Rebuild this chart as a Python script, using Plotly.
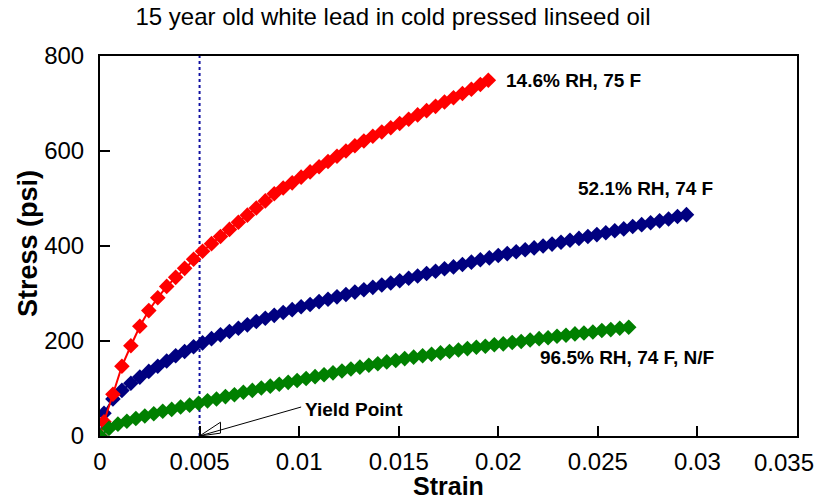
import plotly.graph_objects as go

# ---------------- data ----------------
red_x = [0, 0.0002, 0.00065, 0.0011, 0.00155, 0.002, 0.00245, 0.0029, 0.00335, 0.0038,
         0.00425, 0.0047, 0.00515, 0.0056, 0.00605, 0.0065, 0.00695, 0.0074, 0.00785, 0.0083,
         0.00875, 0.0092, 0.00965, 0.0101, 0.01055, 0.011, 0.01145, 0.0119, 0.01235, 0.0128,
         0.01325, 0.0137, 0.01415, 0.0146, 0.01505, 0.0155, 0.01595, 0.0164, 0.01685, 0.0173,
         0.01775, 0.0182, 0.01865, 0.0191, 0.0195]
red_y = [0, 30, 88, 147, 190, 231, 264, 291, 315, 334,
         353, 372, 389, 405, 420, 435, 450, 465, 480, 495,
         510, 522, 533, 545, 556, 567, 578, 589, 600, 611,
         621, 631, 640, 649, 658, 667, 676, 685, 694, 703,
         712, 721, 730, 740, 749]

blue_x = [0, 0.0002, 0.00065, 0.0011, 0.00155, 0.002, 0.00245, 0.0029, 0.00335, 0.0038,
          0.00425, 0.0047, 0.00515, 0.0056, 0.00605, 0.0065, 0.00695, 0.0074, 0.00785, 0.0083,
          0.00875, 0.0092, 0.00965, 0.0101, 0.01055, 0.011, 0.01145, 0.0119, 0.01235, 0.0128,
          0.01325, 0.0137, 0.01415, 0.0146, 0.01505, 0.0155, 0.01595, 0.0164, 0.01685, 0.0173,
          0.01775, 0.0182, 0.01865, 0.0191, 0.01955, 0.02, 0.02045, 0.0209, 0.02135, 0.0218,
          0.02225, 0.0227, 0.02315, 0.0236, 0.02405, 0.0245, 0.02495, 0.0254, 0.02585, 0.0263,
          0.02675, 0.0272, 0.02765, 0.0281, 0.02855, 0.029, 0.02945]
blue_y = [0, 48, 78, 96, 111, 124, 136, 147, 158, 169,
          178, 188, 196, 205, 213, 220, 227, 234, 241, 248,
          254, 260, 266, 272, 277, 283, 288, 293, 298, 303,
          308, 313, 318, 322, 327, 332, 337, 342, 347, 352,
          356, 361, 366, 371, 375, 380, 384, 388, 392, 396,
          400, 404, 408, 412, 416, 420, 424, 428, 432, 436,
          441, 445, 449, 453, 457, 462, 466]

green_x = [0, 0.00045, 0.0009, 0.00135, 0.0018, 0.00225, 0.0027, 0.00315, 0.0036, 0.00405,
           0.0045, 0.00495, 0.0054, 0.00585, 0.0063, 0.00675, 0.0072, 0.00765, 0.0081, 0.00855,
           0.009, 0.00945, 0.0099, 0.01035, 0.0108, 0.01125, 0.0117, 0.01215, 0.0126, 0.01305,
           0.0135, 0.01395, 0.0144, 0.01485, 0.0153, 0.01575, 0.0162, 0.01665, 0.0171, 0.01755,
           0.018, 0.01845, 0.0189, 0.01935, 0.0198, 0.02025, 0.0207, 0.02115, 0.0216, 0.02205,
           0.0225, 0.02295, 0.0234, 0.02385, 0.0243, 0.02475, 0.0252, 0.02565, 0.0261, 0.02655]
green_y = [0, 16, 25, 31, 37, 42, 47, 52, 56, 61,
           65, 69, 74, 78, 83, 87, 92, 96, 101, 105,
           109, 113, 117, 121, 125, 129, 133, 137, 141, 145,
           149, 152, 156, 159, 163, 166, 169, 172, 175, 178,
           181, 184, 187, 189, 192, 194, 197, 199, 202, 205,
           207, 210, 212, 215, 217, 219, 222, 224, 227, 229]

series_labels = ["14.6% RH, 75 F", "52.1% RH, 74 F", "96.5% RH, 74 F, N/F"]
yield_strain = 0.005
x_ticks = [0, 0.005, 0.01, 0.015, 0.02, 0.025, 0.03, 0.035]
x_tick_text = ["0", "0.005", "0.01", "0.015", "0.02", "0.025", "0.03", "0.035"]
y_ticks = [0, 200, 400, 600, 800]

FONT = "Arial, Liberation Sans, sans-serif"
RED = "#FF0000"
BLUE = "#000080"
GREEN = "#008000"

fig = go.Figure()

# yield line (below the data)
fig.add_trace(go.Scatter(x=[yield_strain, yield_strain], y=[0, 800], mode="lines",
                         line=dict(color="#1010A0", width=2, dash="dot"),
                         hoverinfo="skip", showlegend=False))

marker_size = 12
fig.add_trace(go.Scatter(x=blue_x, y=blue_y, mode="lines+markers",
                         line=dict(color=BLUE, width=2),
                         marker=dict(symbol="diamond", size=marker_size, color=BLUE),
                         name=series_labels[1], showlegend=False))
fig.add_trace(go.Scatter(x=red_x, y=red_y, mode="lines+markers",
                         line=dict(color=RED, width=2),
                         marker=dict(symbol="diamond", size=marker_size, color=RED),
                         name=series_labels[0], showlegend=False))
fig.add_trace(go.Scatter(x=green_x, y=green_y, mode="lines+markers",
                         line=dict(color=GREEN, width=2),
                         marker=dict(symbol="diamond", size=marker_size, color=GREEN),
                         name=series_labels[2], showlegend=False))

# series labels
label_font = dict(family=FONT, size=19, color="black")
fig.add_annotation(x=0.0203, y=749, text="<b>" + series_labels[0] + "</b>", showarrow=False,
                   xanchor="left", yanchor="middle", font=label_font)
fig.add_annotation(x=0.0239, y=522, text="<b>" + series_labels[1] + "</b>", showarrow=False,
                   xanchor="left", yanchor="middle", font=label_font)
fig.add_annotation(x=0.0220, y=166, text="<b>" + series_labels[2] + "</b>", showarrow=False,
                   xanchor="left", yanchor="middle", font=label_font)

# yield point callout
fig.add_annotation(x=0.0102, y=56, text="<b>Yield Point</b>", showarrow=False,
                   xanchor="left", yanchor="middle", font=label_font)
fig.add_shape(type="line", x0=0.0101, y0=61, x1=yield_strain, y1=0,
              line=dict(color="black", width=1))
fig.add_shape(type="path",
              path="M 0.005 0 L 0.00605 29 L 0.00605 6 Z",
              line=dict(color="black", width=1), fillcolor="rgba(0,0,0,0)")

# last x tick label, pulled inside the figure as in the reference
tick_font = dict(family=FONT, size=24, color="black")
fig.add_annotation(x=x_ticks[-1], xref="x", y=0, yref="paper", text=x_tick_text[-1],
                   showarrow=False, xanchor="right", yanchor="middle",
                   xshift=19, yshift=-26, font=tick_font)

# axis titles
fig.add_annotation(x=0.5, xref="paper", y=0, yref="paper", text="<b>Strain</b>",
                   showarrow=False, xanchor="center", yanchor="middle", yshift=-50,
                   font=dict(family=FONT, size=25, color="black"))
fig.add_annotation(x=0, xref="paper", y=0.5, yref="paper", text="<b>Stress (psi)</b>",
                   showarrow=False, xanchor="center", yanchor="middle", xshift=-72, yshift=2,
                   textangle=-90, font=dict(family=FONT, size=27, color="black"))

fig.update_layout(
    width=817, height=503,
    margin=dict(l=100, r=20, t=56, b=67),
    paper_bgcolor="white", plot_bgcolor="white",
    font=dict(family=FONT, color="black"),
    title=dict(text="15 year old white lead in cold pressed linseed oil",
               x=393 / 817, xanchor="center", y=1 - 17 / 503, yanchor="middle",
               font=dict(family=FONT, size=24, color="black")),
    xaxis=dict(range=[0, 0.0350001], tickvals=x_ticks, ticktext=x_tick_text[:-1] + [""],
               ticks="inside", ticklen=10, tickwidth=2, tickcolor="black",
               showline=True, linewidth=2, linecolor="black", mirror=True,
               showgrid=False, zeroline=False, automargin=False,
               ticklabelstandoff=3,
               tickfont=tick_font),
    yaxis=dict(range=[0, 800], tickvals=y_ticks,
               ticks="inside", ticklen=10, tickwidth=2, tickcolor="black",
               showline=True, linewidth=2, linecolor="black", mirror=True,
               showgrid=False, zeroline=False, automargin=False,
               ticklabelstandoff=9,
               tickfont=tick_font),
)

fig.write_html("out.html", config={"displayModeBar": False},
               post_script="document.body.style.margin='0px';")
